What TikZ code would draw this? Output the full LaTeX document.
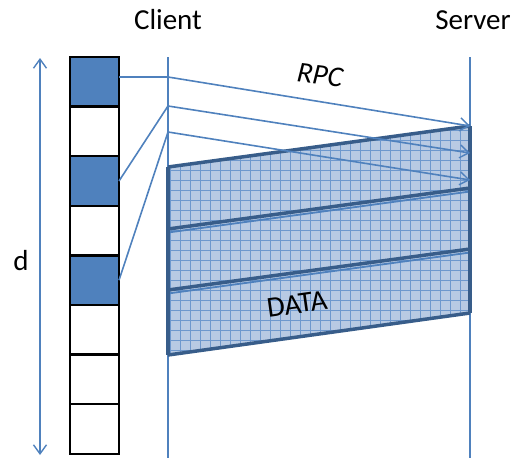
\documentclass[tikz,border=0pt]{standalone}
\usepackage{fontspec}
\setmainfont{Carlito}
\usetikzlibrary{arrows.meta}
\definecolor{lblue}{RGB}{79,129,189}
\definecolor{dblue}{RGB}{56,93,138}
\definecolor{dfill}{RGB}{184,202,227}
\definecolor{gridc}{RGB}{110,152,205}
\tikzset{
  cell/.style={draw=black,line width=2.5pt,minimum width=49pt,minimum height=49.6pt,inner sep=0pt,outer sep=0pt},
  full/.style={cell,fill=lblue},
  empty/.style={cell,fill=white},
  vline/.style={draw=lblue,line width=2pt},
  rpc/.style={draw=lblue,line width=1.6pt},
  tip/.style={-{Straight Barb[length=9pt,width=13pt,line width=1.4pt]}},
  edge/.style={draw=dblue,line width=3.5pt,line join=round},
  lab/.style={font=\fontsize{29}{33}\selectfont,inner sep=0pt}
}
\begin{document}
\begin{tikzpicture}[x=1pt,y=-1pt]
\useasboundingbox (0,0) rectangle (516,458);
% labels
\node[lab] (client) at (168,20) {Client};
\node[lab] (server) at (473,20) {Server};
\node[lab] (dlab) at (21,261) {d};
\node[lab,font=\fontsize{29}{33}\selectfont\itshape,rotate=-7] (rpclab) at (320,75) {RPC};
% timelines
\coordinate (ctop) at (168,57);
\coordinate (cbot) at (168,458);
\coordinate (stop) at (470,57);
\coordinate (sbot) at (470,458);
\draw[vline] (ctop) -- (cbot);
\draw[vline] (stop) -- (sbot);
% d arrow
\coordinate (dtop) at (40,58);
\coordinate (dbot) at (40,455);
\draw[vline,line width=1.6pt,{Straight Barb[length=9pt,width=13pt,line width=1.4pt]}-{Straight Barb[length=9pt,width=13pt,line width=1.4pt]}] (dtop) -- (dbot);
% data parallelograms
\coordinate (p0l) at (168,167); \coordinate (p0r) at (470,126);
\coordinate (p1l) at (168,229); \coordinate (p1r) at (470,188);
\coordinate (p2l) at (168,290); \coordinate (p2r) at (470,249);
\coordinate (p3l) at (168,355); \coordinate (p3r) at (470,313);
\fill[dfill] (p0l) -- (p0r) -- (p3r) -- (p3l) -- cycle;
\begin{scope}
\clip (p0l) -- (p0r) -- (p3r) -- (p3l) -- cycle;
\draw[gridc,line width=0.5pt,step=10pt] (160,120) grid (480,360);
\end{scope}
\draw[lblue,line width=1.8pt] ([yshift=-3.5pt]p1l) -- ([yshift=-3.5pt]p1r);
\draw[lblue,line width=1.8pt] ([yshift=-3.5pt]p2l) -- ([yshift=-3.5pt]p2r);
\draw[edge] (p0l) -- (p0r);
\draw[edge] (p1l) -- (p1r);
\draw[edge] (p2l) -- (p2r);
\draw[edge] (p3l) -- (p3r);
\draw[edge] (p0l) -- (p3l);
\draw[edge] (p0r) -- (p3r);
% cells
\foreach \i/\s in {1/full,2/empty,3/full,4/empty,5/full,6/empty,7/empty,8/empty}{
  \node[\s] (b\i) at (94.5,{57+49.6*(\i-0.5)}) {};
}
% RPC lines
\coordinate (c1) at (168,77);
\coordinate (c2) at (168,106);
\coordinate (c3) at (168,132);
\coordinate (s1) at (470,126);
\coordinate (s2) at (470,153);
\coordinate (s3) at (470,180);
\draw[rpc] (c1 -| b1.east) -- (c1);
\draw[rpc] (b3.east) -- (c2);
\draw[rpc] (b5.east) -- (c3);
\draw[rpc,tip] (c1) -- (s1);
\draw[rpc,tip] (c2) -- (s2);
\draw[rpc,tip] (c3) -- (s3);
\node[lab,rotate=8] (datalab) at (297,304) {DATA};
\end{tikzpicture}
\end{document}
